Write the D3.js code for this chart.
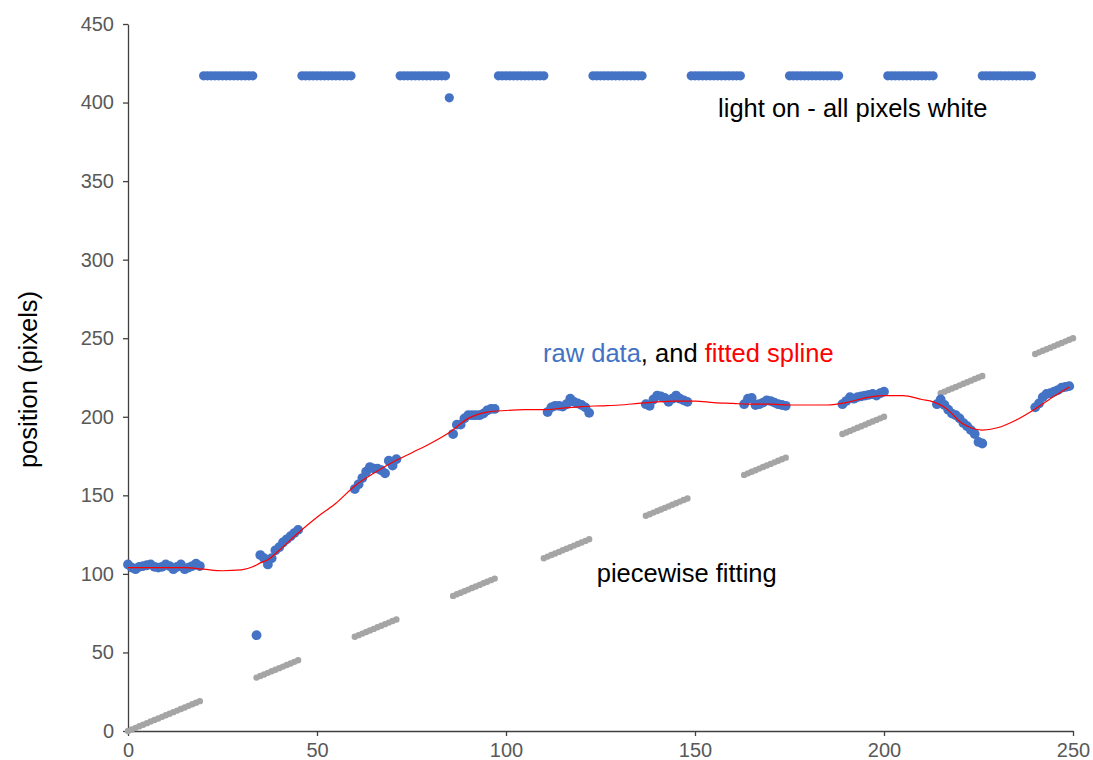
<head>
    <meta name="viewport" content="width=device-width, initial-scale=1" charset="utf-8">
    <style>
        body { margin: 0; background: #ffffff; }
        text { font-family: "Liberation Sans", Arial, sans-serif; }
    </style>
    <script src="https://cdn.jsdelivr.net/npm/d3@7"></script>
</head>
<body>
    <div id="chart"></div>
    <script>

        // raw tracked position (light off frames)
        var rawFrames = [
            0,1,2,3,4,5,6,7,8,9,10,11,12,13,14,15,16,17,18,19,
            34,35,36,37,38,39,40,41,42,43,44,45,
            60,61,62,63,64,65,66,67,68,69,70,71,
            86,87,88,89,90,91,92,93,94,95,96,97,
            111,112,113,114,115,116,117,118,119,120,121,122,
            137,138,139,140,141,142,143,144,145,146,147,148,
            163,164,165,166,167,168,169,170,171,172,173,174,
            189,190,191,192,193,194,195,196,197,198,199,200,
            214,215,216,217,218,219,220,221,222,223,224,225,226,
            240,241,242,243,244,245,246,247,248,249
        ];
        var rawPos = [
            106,104,103,104.5,105,105.5,106,104.5,104,104.5,106,105,103,104.5,106,103,104,105,106.5,105,
            61,112,110,106,110,115,117,120,122,124,126,128,
            154,157,161,165,168,167,167,166,164,172,169,173,
            189,195,195,199,201,201,201,201,202,204,205,205,
            203,206,207,207,206.5,208,211.5,209.5,208.5,207.5,206,202.5,
            208,207,211,213.5,213,212,209.5,211.5,213.5,211.5,210.5,209.5,
            208,211.5,212,207.5,208,209,210.5,210,209,208,207.5,207,
            208,210,212.5,211.5,212.5,213,213.5,214,214.5,213.5,215,216,
            208,211,207.5,204.5,202,201,199,196,194,191.5,189,184,183,
            206,208.5,212.5,214.5,215,216,217,218.5,219,219.5
        ];

        // light on frames - every pixel white
        var lightFrames = [
            20,21,22,23,24,25,26,27,28,29,30,31,32,33,
            46,47,48,49,50,51,52,53,54,55,56,57,58,59,
            72,73,74,75,76,77,78,79,80,81,82,83,84,85,
            98,99,100,101,102,103,104,105,106,107,108,109,110,
            123,124,125,126,127,128,129,130,131,132,133,134,135,136,
            149,150,151,152,153,154,155,156,157,158,159,160,161,162,
            175,176,177,178,179,180,181,182,183,184,185,186,187,188,
            201,202,203,204,205,206,207,208,209,210,211,212,213,
            226,227,228,229,230,231,232,233,234,235,236,237,238,239
        ];
        var lightPos = [
            417,417,417,417,417,417,417,417,417,417,417,417,417,417,
            417,417,417,417,417,417,417,417,417,417,417,417,417,417,
            417,417,417,417,417,417,417,417,417,417,417,417,417,403,
            417,417,417,417,417,417,417,417,417,417,417,417,417,
            417,417,417,417,417,417,417,417,417,417,417,417,417,417,
            417,417,417,417,417,417,417,417,417,417,417,417,417,417,
            417,417,417,417,417,417,417,417,417,417,417,417,417,417,
            417,417,417,417,417,417,417,417,417,417,417,417,417,
            417,417,417,417,417,417,417,417,417,417,417,417,417,417
        ];

        // piecewise fitting
        var pieceFrames = [
            0,1,2,3,4,5,6,7,8,9,10,11,12,13,14,15,16,17,18,19,
            34,35,36,37,38,39,40,41,42,43,44,45,
            60,61,62,63,64,65,66,67,68,69,70,71,
            86,87,88,89,90,91,92,93,94,95,96,97,
            110,111,112,113,114,115,116,117,118,119,120,121,122,
            137,138,139,140,141,142,143,144,145,146,147,148,
            163,164,165,166,167,168,169,170,171,172,173,174,
            189,190,191,192,193,194,195,196,197,198,199,200,
            215,216,217,218,219,220,221,222,223,224,225,226,
            240,241,242,243,244,245,246,247,248,249,250
        ];
        var piecePos = [
            0,1,2,3,4,5,6,7,8,9,10,11,12,13,14,15,16,17,18,19,
            34,35,36,37,38,39,40,41,42,43,44,45,
            60,61,62,63,64,65,66,67,68,69,70,71,
            86,87,88,89,90,91,92,93,94,95,96,97,
            110,111,112,113,114,115,116,117,118,119,120,121,122,
            137,138,139,140,141,142,143,144,145,146,147,148,
            163,164,165,166,167,168,169,170,171,172,173,174,
            189,190,191,192,193,194,195,196,197,198,199,200,
            215,216,217,218,219,220,221,222,223,224,225,226,
            240,241,242,243,244,245,246,247,248,249,250
        ];

        // fitted spline
        var splineFrames = [0,5,10,15,20,25,30,33,35,37,40,45,50,55,60,65,70,75,80,85,90,95,100,105,110,115,120,125,130,135,140,145,150,155,160,165,170,175,180,185,190,195,200,205,210,213,216,218,220,223,226,230,235,240,245,249];
        var splinePos = [104,104,104,104,103,102,102.5,104.5,107,109,115,126,136,145,156,164,171,177,183,190,199,203,204,204.5,204.5,205.5,206.5,207,207.5,208.5,209.5,210,210,209,208.5,208,208,207.5,207.5,207.5,209,212,213.5,213.5,211,209.5,206,202,197,193,191.5,193,198,205,213,219];

        var xTicks = [0, 50, 100, 150, 200, 250];
        var yTicks = [0, 50, 100, 150, 200, 250, 300, 350, 400, 450];

        var W = 1093, H = 760;
        var margin = { top: 24, right: 20, bottom: 29, left: 128 };

        var svg = d3.select("#chart").append("svg")
            .attr("width", W)
            .attr("height", H);

        var x = d3.scaleLinear()
            .domain([0, 250])
            .range([margin.left, 1073]);

        var y = d3.scaleLinear()
            .domain([0, 450])
            .range([H - margin.bottom, margin.top]);

        var xAxis = svg.append("g")
            .attr("transform", `translate(0,${y(0)})`)
            .call(d3.axisBottom(x).tickValues(xTicks).tickSize(5).tickPadding(7).tickSizeOuter(0));

        var yAxis = svg.append("g")
            .attr("transform", `translate(${x(0)},0)`)
            .call(d3.axisLeft(y).tickValues(yTicks).tickSize(5).tickPadding(9).tickSizeOuter(0));

        [xAxis, yAxis].forEach(function(a) {
            a.select(".domain").attr("stroke", "#404040").attr("stroke-width", 1.3);
            a.selectAll(".tick line").attr("stroke", "#404040").attr("stroke-width", 1.3);
            a.selectAll(".tick text")
                .attr("fill", "#595959")
                .style("font-size", "20px")
                .style("font-family", '"Liberation Sans", Arial, sans-serif');
        });

        svg.append("text")
            .attr("transform", `translate(37,${(y(0) + y(450)) / 2 + 2}) rotate(-90)`)
            .attr("text-anchor", "middle")
            .attr("fill", "#000")
            .style("font-size", "25.5px")
            .text("position (pixels)");

        // piecewise fitting
        svg.append("g")
            .selectAll("circle")
            .data(pieceFrames)
            .enter()
            .append("circle")
            .attr("cx", d => x(d))
            .attr("cy", (d, i) => y(piecePos[i]))
            .attr("r", 3.2)
            .attr("fill", "#A5A5A5");

        // raw data
        svg.append("g")
            .selectAll("circle")
            .data(rawFrames)
            .enter()
            .append("circle")
            .attr("cx", d => x(d))
            .attr("cy", (d, i) => y(rawPos[i]))
            .attr("r", 4.9)
            .attr("fill", "#4472C4");

        svg.append("g")
            .selectAll("circle")
            .data(lightFrames)
            .enter()
            .append("circle")
            .attr("cx", d => x(d))
            .attr("cy", (d, i) => y(lightPos[i]))
            .attr("r", 4.6)
            .attr("fill", "#4472C4");

        // spline on top
        var line = d3.line()
            .x(d => x(d[0]))
            .y(d => y(d[1]))
            .curve(d3.curveMonotoneX);

        svg.append("path")
            .datum(splineFrames.map((f, i) => [f, splinePos[i]]))
            .attr("d", line)
            .attr("fill", "none")
            .attr("stroke", "#FF0000")
            .attr("stroke-width", 1.2);

        // labels
        svg.append("text")
            .attr("x", x(156.1))
            .attr("y", y(390.6))
            .attr("fill", "#000")
            .style("font-size", "25.5px")
            .text("light on - all pixels white");

        var lbl = svg.append("text")
            .attr("x", x(109.8))
            .attr("y", y(234.9))
            .style("font-size", "25.5px");
        lbl.append("tspan").attr("fill", "#4472C4").text("raw data");
        lbl.append("tspan").attr("fill", "#000").text(", and ");
        lbl.append("tspan").attr("fill", "#FF0000").text("fitted spline");

        svg.append("text")
            .attr("x", x(124))
            .attr("y", y(95))
            .attr("fill", "#000")
            .style("font-size", "25.5px")
            .text("piecewise fitting");

    </script>
</body>
